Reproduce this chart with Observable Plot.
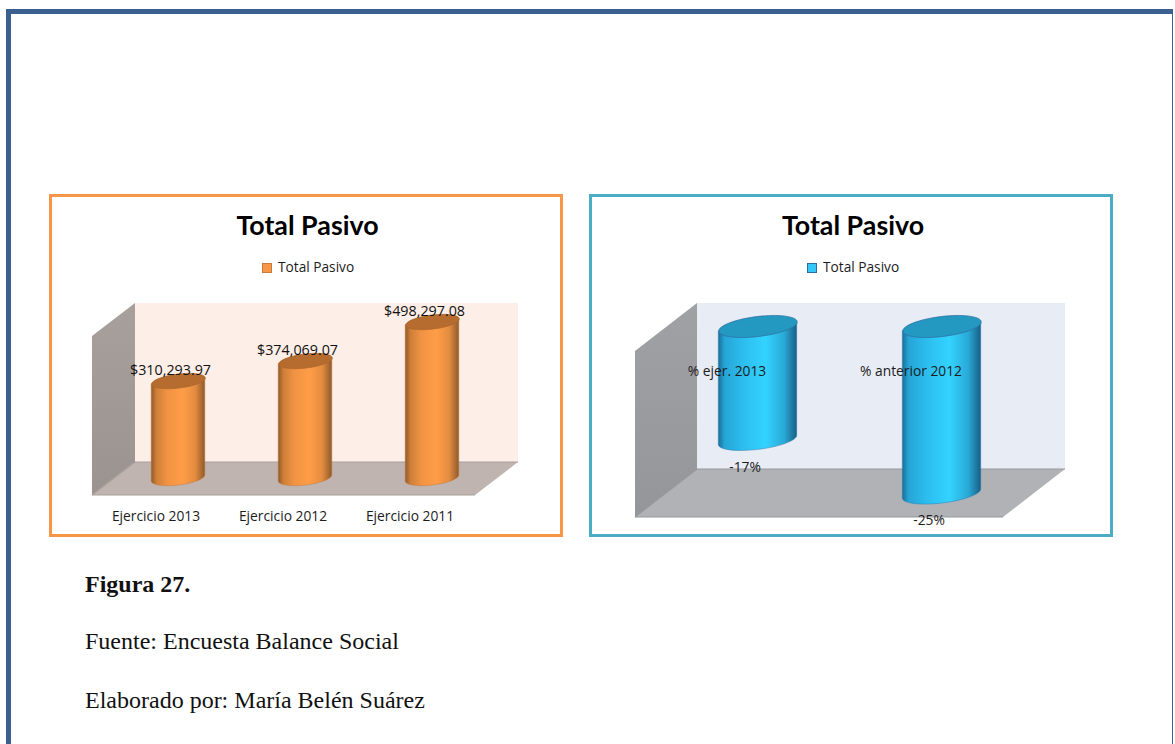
<!DOCTYPE html>
<html lang="es">
<head>
<meta charset="utf-8">
<script src="https://cdn.jsdelivr.net/npm/d3@7"></script>
<script src="https://cdn.jsdelivr.net/npm/@observablehq/plot@0.6"></script>
<style>
html,body{margin:0;padding:0;background:#fff;width:1175px;height:744px;overflow:hidden}
#frame{position:absolute;left:6px;top:9px;width:1167px;height:760px;box-sizing:border-box;border-left:5px solid #3b5f8f;border-top:5px solid #3b5f8f;border-right:1px solid #3b5f8f}
.panel{position:absolute;top:194px;height:343px;box-sizing:border-box;border:3px solid;background:#fff}
.panel svg{position:absolute;left:-3px;top:-3px;overflow:visible;background:transparent;max-width:none!important;height:343px!important}
.title{position:absolute;font:700 26.8px Lato,sans-serif;color:#000;white-space:nowrap;transform:translateX(-50%)}
.leg{position:absolute;font:13.7px "Open Sans",sans-serif;color:#1c1c1c;white-space:nowrap}
.sw{position:absolute;width:8px;height:8px;border:1px solid}
.cap{position:absolute;left:85px;font:24px "Liberation Serif",serif;color:#111;white-space:nowrap}
</style>
</head>
<body>
<div id="frame"></div>
<div id="left" class="panel" style="left:49px;width:514px;border-color:#f79646"></div>
<div id="right" class="panel" style="left:589px;width:524px;border-color:#4bacc6"></div>
<div class="title" style="left:307.5px;top:209px">Total Pasivo</div>
<div class="title" style="left:853px;top:209px">Total Pasivo</div>
<div class="sw" style="left:262px;top:263px;background:#f79646;border-color:#c77a3a"></div>
<div class="leg" style="left:278px;top:257px">Total Pasivo</div>
<div class="sw" style="left:807px;top:263px;background:#33c8f5;border-color:#2f6f9f"></div>
<div class="leg" style="left:823px;top:257px">Total Pasivo</div>
<div class="cap" style="top:571px;font-weight:700">Figura 27.</div>
<div class="cap" style="top:628px">Fuente: Encuesta Balance Social</div>
<div class="cap" style="top:687px">Elaborado por: María Belén Suárez</div>
<script>
const yearCategories = ["Ejercicio 2013", "Ejercicio 2012", "Ejercicio 2011"];
const yearValues = [310293.97, 374069.07, 498297.08];
const yearLabels = ["$310,293.97", "$374,069.07", "$498,297.08"];
const pctCategories = ["% ejer. 2013", "% anterior 2012"];
const pctValues = [-17, -25];
const pctLabels = ["-17%", "-25%"];

const rows = (cats, vals, labs) => cats.map((c, i) => ({c, v: vals[i], l: labs[i]}));
const TILT = -7, K = 0.5523;

function ellipsePoint(rx, ry) {
  const a = TILT * Math.PI / 180, cs = Math.cos(a), sn = Math.sin(a);
  return (u, v) => [rx * u * cs - ry * v * sn, rx * u * sn + ry * v * cs];
}

function ellipse(rx, ry) {
  const p = ellipsePoint(rx, ry);
  return {draw(ctx) {
    ctx.moveTo(...p(1, 0));
    ctx.bezierCurveTo(...p(1, K), ...p(K, 1), ...p(0, 1));
    ctx.bezierCurveTo(...p(-K, 1), ...p(-1, K), ...p(-1, 0));
    ctx.bezierCurveTo(...p(-1, -K), ...p(-K, -1), ...p(0, -1));
    ctx.bezierCurveTo(...p(K, -1), ...p(1, -K), ...p(1, 0));
    ctx.closePath();
  }};
}

// Turns each bar Plot has laid out into a cylinder body with a rounded lower end.
function cylinderBody(ry, edge) {
  return (index, scales, values, dims, ctx, next) => {
    const g = next(index, scales, values, dims, ctx);
    d3.select(g).selectAll("rect").each(function () {
      const r = this, x = +r.getAttribute("x"), y = +r.getAttribute("y"),
            w = +r.getAttribute("width"), h = +r.getAttribute("height");
      const cx = x + w / 2, yb = y + h, p = ellipsePoint(w / 2, ry);
      const at = (u, v, yc) => { const q = p(u, v); return `${cx + q[0]},${yc + q[1]}`; };
      const d = `M${at(-1, 0, y)}L${at(1, 0, y)}L${at(1, 0, yb)}` +
        `C${at(1, K, yb)} ${at(K, 1, yb)} ${at(0, 1, yb)}` +
        `C${at(-K, 1, yb)} ${at(-1, K, yb)} ${at(-1, 0, yb)}Z`;
      const path = document.createElementNS("http://www.w3.org/2000/svg", "path");
      path.setAttribute("d", d);
      path.setAttribute("stroke", edge);
      path.setAttribute("stroke-width", 0.5);
      r.replaceWith(path);
    });
    return g;
  };
}

function scene(o) {
  return () => {
    const ns = "http://www.w3.org/2000/svg";
    const g = document.createElementNS(ns, "g");
    const poly = (pts, fill) => {
      const e = document.createElementNS(ns, "polygon");
      e.setAttribute("points", pts.map(p => p.join(",")).join(" "));
      e.setAttribute("fill", fill);
      g.appendChild(e);
    };
    const {x0, x1, d, yt, yb, dy} = o;
    poly([[x0 + d, yt], [x1 + d, yt], [x1 + d, yb], [x0 + d, yb]], o.back);
    poly([[x0, yt + dy], [x0 + d, yt], [x0 + d, yb], [x0, yb + dy]], `url(#${o.id}-wall)`);
    poly([[x0, yb + dy], [x0 + d, yb], [x1 + d, yb], [x1, yb + dy]], o.floor);
    const line = (a, b) => {
      const e = document.createElementNS(ns, "line");
      e.setAttribute("x1", a[0]); e.setAttribute("y1", a[1]);
      e.setAttribute("x2", b[0]); e.setAttribute("y2", b[1]);
      e.setAttribute("stroke", o.edge); e.setAttribute("stroke-width", 1.2);
      g.appendChild(e);
    };
    line([x0, yb + dy], [x1, yb + dy]);
    line([x0 + d, yb], [x1 + d, yb]);
    line([x0, yb + dy], [x0 + d, yb]);
    const defs = document.createElementNS(ns, "defs");
    const grad = (id, stops, vertical) => {
      const l = document.createElementNS(ns, "linearGradient");
      l.setAttribute("id", id);
      l.setAttribute("x1", 0); l.setAttribute("y1", 0);
      l.setAttribute("x2", vertical ? 0 : 1); l.setAttribute("y2", vertical ? 1 : 0);
      stops.forEach(([of, c]) => {
        const s = document.createElementNS(ns, "stop");
        s.setAttribute("offset", of); s.setAttribute("stop-color", c);
        l.appendChild(s);
      });
      defs.appendChild(l);
    };
    grad(o.id + "-body", o.body);
    grad(o.id + "-wall", o.wall, true);
    g.appendChild(defs);
    return g;
  };
}

const font = "'Open Sans', sans-serif";

const leftData = rows(yearCategories, yearValues, yearLabels);
document.getElementById("left").appendChild(Plot.plot({
  width: 514, height: 343,
  marginTop: 0, marginRight: 0, marginBottom: 30, marginLeft: 0,
  style: {background: "transparent", fontFamily: font},
  x: {type: "band", domain: yearCategories, range: [64, 447], paddingInner: 0.576, paddingOuter: 0.288, axis: null},
  y: {domain: [0, 600000], range: [284, 95.6], axis: null},
  marks: [
    scene({id: "o", x0: 43, x1: 426, d: 43, yt: 109, yb: 268, dy: 33,
      back: "#fdeee7", floor: "#bfb4b0", edge: "#a8a09b",
      wall: [[0, "#a8a09c"], [1, "#9b938f"]],
      body: [[0, "#8f5a2b"], [0.1, "#cf7f39"], [0.3, "#f09343"], [0.58, "#ff9d47"], [0.82, "#e48c40"], [1, "#8f5a2b"]]}),
    Plot.barY(leftData, {x: "c", y: "v", fill: "url(#o-body)", render: cylinderBody(7, "#c77a3a")}),
    Plot.dot(leftData, {x: "c", y: "v", symbol: ellipse(27, 7), fill: "#b56c2e", stroke: "#a9652b", strokeWidth: 0.7}),
    Plot.text(leftData, {x: "c", y: "v", text: "l", dx: -8, dy: -10.5, fontSize: 14.3, fill: "#111"}),
    Plot.axisX({anchor: "bottom", tickSize: 0, tickPadding: 0, dx: -22.5, dy: 4, label: null, fontSize: 13.8, fill: "#1c1c1c", tickFormat: d => d})
  ]
}));

const rightData = rows(pctCategories, pctValues, pctLabels);
document.getElementById("right").appendChild(Plot.plot({
  width: 524, height: 343,
  marginTop: 0, marginRight: 0, marginBottom: 0, marginLeft: 0,
  style: {background: "transparent", fontFamily: font},
  x: {type: "band", domain: pctCategories, range: [76, 445.5], paddingInner: 0.572, paddingOuter: 0.286, axis: null},
  y: {domain: [-30, 0], range: [333, 132], axis: null},
  marks: [
    scene({id: "b", x0: 46, x1: 414, d: 62, yt: 109, yb: 275, dy: 48,
      back: "#e8ecf5", floor: "#b0b2b6", edge: "#96989c",
      wall: [[0, "#a0a1a5"], [1, "#95969a"]],
      body: [[0, "#1a6f96"], [0.08, "#26a5d6"], [0.3, "#2cbced"], [0.6, "#33d3ff"], [0.84, "#2aa9d6"], [1, "#175f85"]]}),
    Plot.barY(rightData, {x: "c", y: "v", fill: "url(#b-body)", render: cylinderBody(9.5, "#2f7fb0")}),
    Plot.dot(rightData, {x: "c", y: () => 0, symbol: ellipse(39.5, 10), fill: "#2398c0", stroke: "#2f6f9f", strokeWidth: 0.7}),
    Plot.axisX({anchor: "top", tickSize: 0, tickPadding: 0, dx: -31, dy: 181, label: null, fontSize: 13.8, fill: "#1c1c1c", tickFormat: d => d}),
    Plot.text(rightData, {x: "c", y: "v", text: "l", dx: -13, dy: 27, fontSize: 13.8, fill: "#1c1c1c"})
  ]
}));
</script>
</body>
</html>
